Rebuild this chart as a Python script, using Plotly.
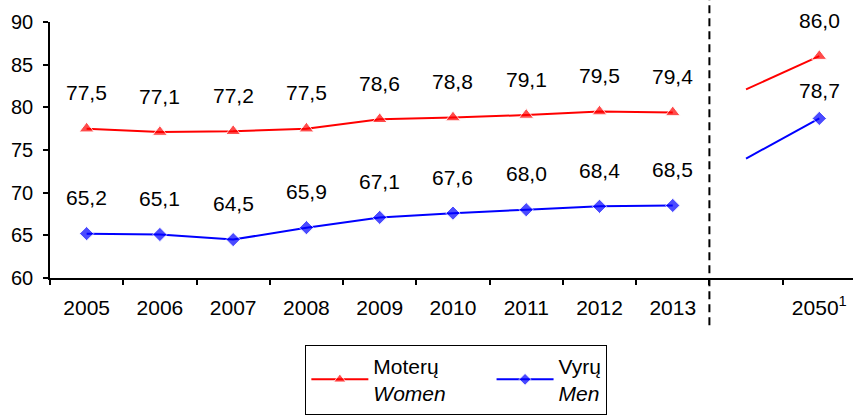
import plotly.graph_objects as go

years = ["2005", "2006", "2007", "2008", "2009", "2010", "2011", "2012", "2013", "", "2050<sup>1</sup>"]
women = [77.5, 77.1, 77.2, 77.5, 78.6, 78.8, 79.1, 79.5, 79.4, 82.1, 86.0]
men = [65.2, 65.1, 64.5, 65.9, 67.1, 67.6, 68.0, 68.4, 68.5, 74.0, 78.7]
labelled = [True] * 9 + [False, True]
women_name = "Moterų<br><i>Women</i>" + "&nbsp;" * 7
men_name = "Vyrų<br><i>Men</i>"

FONT = "Arial, Liberation Sans, sans-serif"
idx = list(range(len(years)))
GAP_AFTER = 8  # historic series ends here; projection segment starts after


def split(vals):
    xs = idx[:GAP_AFTER + 1] + [None] + idx[GAP_AFTER + 1:]
    ys = vals[:GAP_AFTER + 1] + [None] + vals[GAP_AFTER + 1:]
    return xs, ys


def sizes(base):
    s = [base if l else 0 for l in labelled]
    return s[:GAP_AFTER + 1] + [0] + s[GAP_AFTER + 1:]


fig = go.Figure()
xw, yw = split(women)
fig.add_trace(go.Scatter(
    x=xw, y=yw, name=women_name, mode="lines+markers",
    line=dict(color="#FF0000", width=2),
    marker=dict(symbol="triangle-up", size=sizes(13), color="#FF0000",
                line=dict(color="white", width=1)),
    connectgaps=False,
))
xm, ym = split(men)
fig.add_trace(go.Scatter(
    x=xm, y=ym, name=men_name, mode="lines+markers",
    line=dict(color="#0000FF", width=2),
    marker=dict(symbol="diamond", size=sizes(11), color="#0000FF",
                line=dict(color="white", width=1)),
    connectgaps=False,
))

annotations = []
for series in (women, men):
    for i, v in enumerate(series):
        if not labelled[i]:
            continue
        shift = 36
        if series is men and i == len(series) - 1:
            shift = 28
        annotations.append(dict(
            x=i, y=v, xref="x", yref="y", text=f"{v:.1f}".replace(".", ","),
            showarrow=False, yshift=shift, yanchor="middle",
            font=dict(family=FONT, size=21, color="black"),
        ))

fig.update_layout(
    width=853, height=415,
    margin=dict(l=50, r=0, t=22, b=137, autoexpand=False),
    paper_bgcolor="white", plot_bgcolor="white",
    font=dict(family=FONT, size=20, color="black"),
    showlegend=True,
    legend=dict(
        orientation="h", x=0.318, y=-0.26, xanchor="left", yanchor="top",
        bordercolor="black", borderwidth=1, itemwidth=57,
        font=dict(family=FONT, size=21, color="black"),
        bgcolor="white",
    ),
    annotations=annotations,
    shapes=[dict(
        type="line", xref="x", yref="paper", x0=GAP_AFTER + 0.5, x1=GAP_AFTER + 0.5,
        y0=-0.185, y1=1.09, line=dict(color="black", width=2, dash="8px,5px"),
    )],
)

shown = [i for i in idx if years[i]]
fig.update_xaxes(
    range=[-0.5, 10.46], tickmode="array", tickvals=shown, ticktext=[years[i] for i in shown],
    ticks="", showline=True, linecolor="black", linewidth=1.5,
    showgrid=False, zeroline=False, ticklabelstandoff=10,
    tickfont=dict(family=FONT, size=21, color="black"),
    minor=dict(tickmode="array", tickvals=[i - 0.5 for i in idx] + [10.5],
               ticks="outside", ticklen=5, tickcolor="black", tickwidth=1.5, showgrid=False),
)
fig.update_yaxes(
    range=[60, 90], tickmode="array", tickvals=[60, 65, 70, 75, 80, 85, 90],
    ticks="outside", ticklen=5, tickcolor="black", tickwidth=1.5,
    showline=True, linecolor="black", linewidth=1.5,
    showgrid=False, zeroline=False, ticklabelstandoff=6,
    tickfont=dict(family=FONT, size=20, color="black"),
)

fig.write_html(
    "out.html",
    config={"displayModeBar": False},
    post_script="document.body.style.margin='0';document.body.style.overflow='hidden';",
)
